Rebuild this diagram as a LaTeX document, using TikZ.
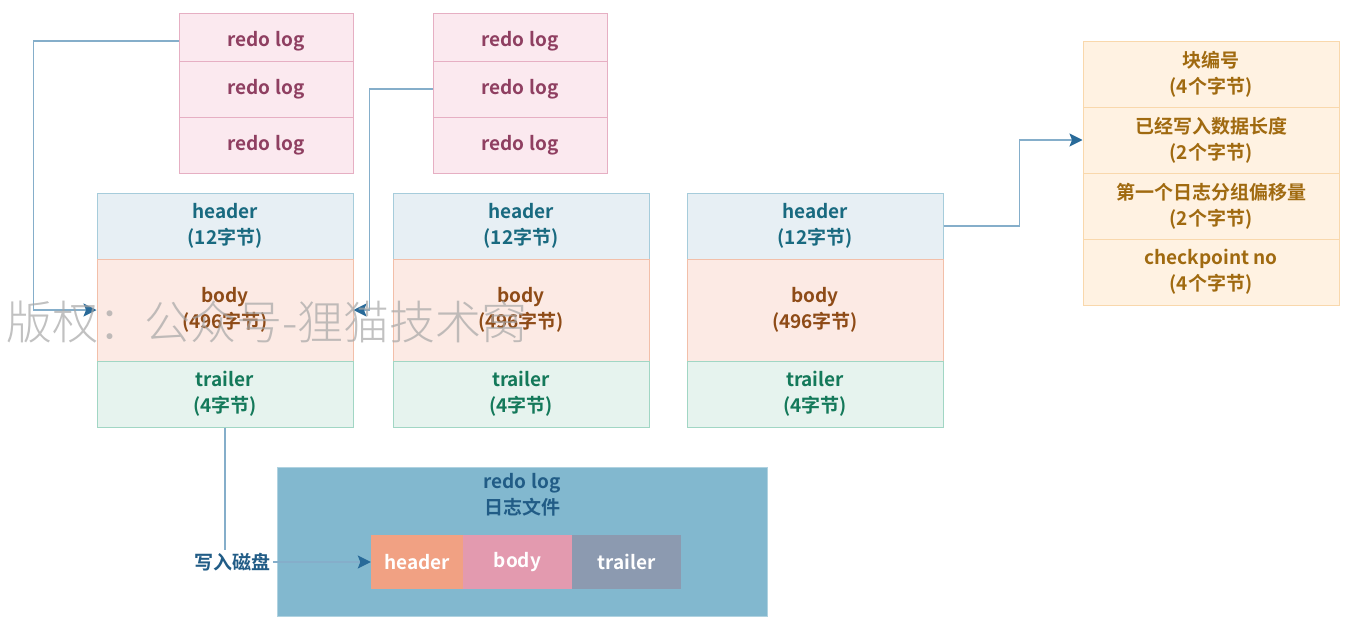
\documentclass[tikz,border=0pt]{standalone}
\usepackage{fontspec}
\setmainfont{Noto Sans CJK SC}[UprightFont=* Bold, BoldFont=* Bold]
\newfontfamily\markfont{Noto Sans CJK SC}[UprightFont=* Light]
\usetikzlibrary{arrows.meta}

\definecolor{logfill}{HTML}{FBE9EF}
\definecolor{logline}{HTML}{E6AFC3}
\definecolor{logtext}{HTML}{8F3F61}
\definecolor{headfill}{HTML}{E7EFF4}
\definecolor{headline}{HTML}{A6CCDB}
\definecolor{headtext}{HTML}{196A80}
\definecolor{bodyfill}{HTML}{FCEAE4}
\definecolor{bodyline}{HTML}{F2BFA9}
\definecolor{bodytext}{HTML}{8E4B17}
\definecolor{trailfill}{HTML}{E6F3EE}
\definecolor{trailline}{HTML}{A1D6C4}
\definecolor{trailtext}{HTML}{14795A}
\definecolor{infofill}{HTML}{FFF2E2}
\definecolor{infoline}{HTML}{F9D8AC}
\definecolor{infotext}{HTML}{A06A10}
\definecolor{filefill}{HTML}{82B8CF}
\definecolor{fileline}{HTML}{B0D2E0}
\definecolor{filetext}{HTML}{215C86}
\definecolor{parthead}{HTML}{F1A183}
\definecolor{partbody}{HTML}{E39AAF}
\definecolor{parttrail}{HTML}{8C9AB0}
\definecolor{flowline}{HTML}{85AECA}
\definecolor{flowtip}{HTML}{286A99}

\begin{document}
\begin{tikzpicture}[x=1pt,y=-1pt,
    every node/.style={font=\fontsize{19}{26}\selectfont, align=center, inner sep=0pt},
    cell/.style={draw, line width=1pt, minimum width=256pt, minimum height=66pt},
    logcell/.style={cell, minimum width=174pt, minimum height=56pt, fill=logfill, draw=logline, text=logtext},
    headcell/.style={cell, fill=headfill, draw=headline, text=headtext},
    bodycell/.style={cell, minimum height=102pt, fill=bodyfill, draw=bodyline, text=bodytext},
    trailcell/.style={cell, fill=trailfill, draw=trailline, text=trailtext},
    infocell/.style={cell, fill=infofill, draw=infoline, text=infotext},
    partcell/.style={minimum width=109pt, minimum height=54pt, text=white},
    wire/.style={draw=flowline, line width=1.5pt},
    flow/.style={wire, -{Stealth[length=13pt,width=13pt,inset=2.5pt,color=flowtip]}}]
    \useasboundingbox (0,0) rectangle (1366,632);
    \foreach \c/\x in {1/266,2/520}
        \foreach \r/\y in {1/41,2/89,3/145}
            \node[logcell] (log\c\r) at (\x,\y) {redo log};
    \foreach \b/\x in {1/225,2/521,3/815} {
        \node[headcell] (head\b) at (\x,226) {header\\(12字节)};
        \node[bodycell] (body\b) at (\x,310) {body\\(496字节)};
        \node[trailcell] (trail\b) at (\x,394) {trailer\\(4字节)};
    }
    \node[infocell] (info1) at (1211,74) {块编号\\(4个字节)};
    \node[infocell] (info2) at (1211,140) {已经写入数据长度\\(2个字节)};
    \node[infocell] (info3) at (1211,206) {第一个日志分组偏移量\\(2个字节)};
    \node[infocell] (info4) at (1211,272) {checkpoint no\\(4个字节)};
    \node[draw=fileline, fill=filefill, minimum width=490pt, minimum height=149pt] (file) at (522,541.5) {};
    \node[text=filetext] (filetitle) at (522,495) {redo log\\日志文件};
    \node[partcell, fill=parthead, minimum width=92pt] (parthead) at (417,562) {header};
    \node[partcell, fill=partbody] (partbody) at (517.5,562) {body};
    \node[partcell, fill=parttrail] (parttrail) at (626.5,562) {trailer};
    \node[text=filetext, inner sep=3pt] (disk) at (232,562) {写入磁盘};
    \draw[flow] (log11.west) -- ++(-145,0) |- (body1.west);
    \draw[flow] (log22.west) -- ++(-63,0) |- (body1.east);
    \draw[flow] (head3.east) -- ++(76,0) |- (info2.west);
    \draw[wire] (trail1.south) -- (trail1.south |- disk.north);
    \draw[flow] (disk.east) -- (parthead.west);
    \node[font=\markfont\fontsize{46}{46}\selectfont, text=black!35, opacity=0.7] (mark) at (267,322) {版权：公众号-狸猫技术窝};
\end{tikzpicture}
\end{document}
